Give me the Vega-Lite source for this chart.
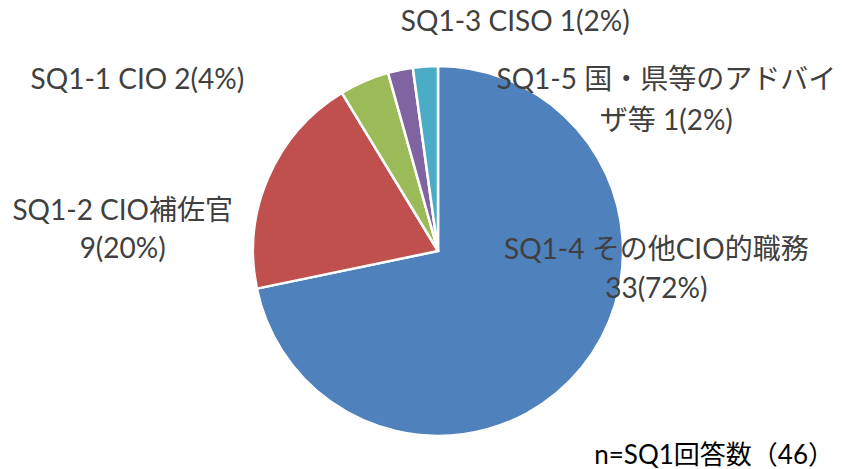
{
  "$schema": "https://vega.github.io/schema/vega-lite/v6.json",
  "width": 808,
  "height": 378,
  "autosize": {"type": "none"},
  "padding": {"left": 34, "top": 62, "right": 0, "bottom": 29},
  "background": "white",
  "config": {"view": {"stroke": null}},
  "title": {
    "text": "n=SQ1回答数（46）",
    "orient": "bottom",
    "anchor": "end",
    "frame": "group",
    "offset": 3,
    "dx": -8,
    "dy": -44,
    "baseline": "top",
    "font": "Lato, Noto Sans CJK JP",
    "fontSize": 26,
    "fontWeight": "normal",
    "color": "#000000"
  },
  "data": {
    "values": [
      {"key": "SQ1-4", "label": "SQ1-4 その他CIO的職務\n33(72%)", "value": 33, "order": 1},
      {"key": "SQ1-2", "label": "SQ1-2 CIO補佐官\n9(20%)", "value": 9, "order": 2},
      {"key": "SQ1-1", "label": "SQ1-1 CIO 2(4%)", "value": 2, "order": 3},
      {"key": "SQ1-3", "label": "SQ1-3 CISO 1(2%)", "value": 1, "order": 4},
      {"key": "SQ1-5", "label": "SQ1-5 国・県等のアドバイ\nザ等 1(2%)", "value": 1, "order": 5}
    ]
  },
  "encoding": {
    "theta": {"field": "value", "type": "quantitative", "stack": true},
    "order": {"field": "order", "type": "quantitative"}
  },
  "layer": [
    {
      "mark": {"type": "arc", "outerRadius": 185, "stroke": "white", "strokeWidth": 2.5},
      "encoding": {
        "color": {
          "field": "key",
          "type": "nominal",
          "scale": {
            "domain": ["SQ1-4", "SQ1-2", "SQ1-1", "SQ1-3", "SQ1-5"],
            "range": ["#4F81BD", "#C0504D", "#9BBB59", "#8064A2", "#4BACC6"]
          },
          "legend": null
        }
      }
    },
    {
      "mark": {"type": "text", "radius": 110, "dx": 133, "dy": -69, "lineBreak": "\n", "lineHeight": 39, "font": "Lato, Noto Sans CJK JP", "fontSize": 28, "color": "#404040", "align": "center", "baseline": "middle"},
      "encoding": {"text": {"condition": {"test": "datum.key === 'SQ1-4'", "field": "label"}, "value": ""}}
    },
    {
      "mark": {"type": "text", "radius": 250, "dx": -86, "dy": 61, "lineBreak": "\n", "lineHeight": 38, "font": "Lato, Noto Sans CJK JP", "fontSize": 28, "color": "#404040", "align": "center", "baseline": "middle"},
      "encoding": {"text": {"condition": {"test": "datum.key === 'SQ1-2'", "field": "label"}, "value": ""}}
    },
    {
      "mark": {"type": "text", "radius": 230, "dx": -209, "dy": 41, "lineBreak": "\n", "lineHeight": 39, "font": "Lato, Noto Sans CJK JP", "fontSize": 28, "color": "#404040", "align": "center", "baseline": "middle"},
      "encoding": {"text": {"condition": {"test": "datum.key === 'SQ1-1'", "field": "label"}, "value": ""}}
    },
    {
      "mark": {"type": "text", "radius": 230, "dx": 124, "dy": -3, "lineBreak": "\n", "lineHeight": 39, "font": "Lato, Noto Sans CJK JP", "fontSize": 28, "color": "#404040", "align": "center", "baseline": "middle"},
      "encoding": {"text": {"condition": {"test": "datum.key === 'SQ1-3'", "field": "label"}, "value": ""}}
    },
    {
      "mark": {"type": "text", "radius": 230, "dx": 244, "dy": 59, "lineBreak": "\n", "lineHeight": 41, "font": "Lato, Noto Sans CJK JP", "fontSize": 28, "color": "#404040", "align": "center", "baseline": "middle"},
      "encoding": {"text": {"condition": {"test": "datum.key === 'SQ1-5'", "field": "label"}, "value": ""}}
    }
  ]
}
